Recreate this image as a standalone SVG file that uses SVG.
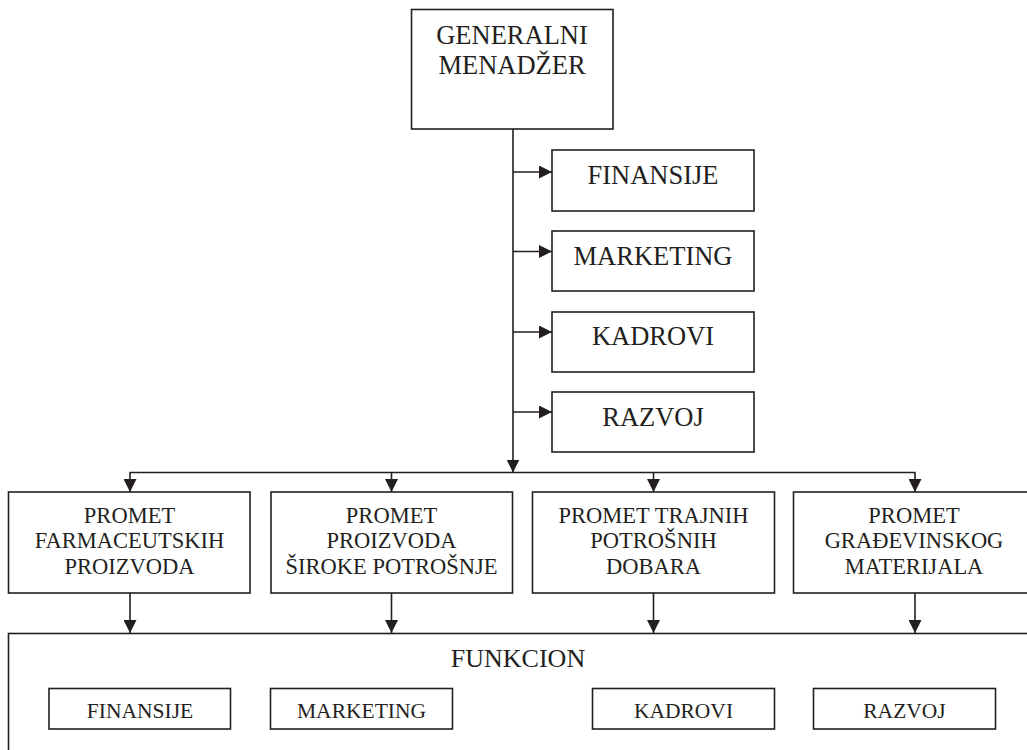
<svg xmlns="http://www.w3.org/2000/svg" width="1027" height="750" viewBox="0 0 1027 750">
  <style>
    .box { fill: #ffffff; stroke: #231f20; stroke-width: 1.6; }
    .wire { fill: none; stroke: #231f20; stroke-width: 1.6; }
    .lbl { font-family: "Liberation Serif", "Times New Roman", serif; fill: #231f20; text-anchor: middle; }
    .t1 { font-size: 26.5px; }
    .t2 { font-size: 22.5px; }
    .t3 { font-size: 26px; }
    .t4 { font-size: 21.5px; }
  </style>
  <defs>
    <marker id="arrow" markerUnits="userSpaceOnUse" markerWidth="13" markerHeight="13" refX="13" refY="6.5" orient="auto">
      <path d="M0,0 L13,6.5 L0,13 z" fill="#231f20"/>
    </marker>
  </defs>
  <rect width="1027" height="750" fill="#ffffff"/>

  <!-- connectors -->
  <g id="connectors" class="wire">
    <line x1="513" y1="129" x2="513" y2="472.5" marker-end="url(#arrow)"/>
    <line x1="513" y1="172" x2="552" y2="172" marker-end="url(#arrow)"/>
    <line x1="513" y1="251.5" x2="552" y2="251.5" marker-end="url(#arrow)"/>
    <line x1="513" y1="332" x2="552" y2="332" marker-end="url(#arrow)"/>
    <line x1="513" y1="412" x2="552" y2="412" marker-end="url(#arrow)"/>
    <line x1="129.5" y1="472.5" x2="915.5" y2="472.5"/>
    <line x1="130" y1="472.5" x2="130" y2="492" marker-end="url(#arrow)"/>
    <line x1="391.5" y1="472.5" x2="391.5" y2="492" marker-end="url(#arrow)"/>
    <line x1="653.5" y1="472.5" x2="653.5" y2="492" marker-end="url(#arrow)"/>
    <line x1="915" y1="472.5" x2="915" y2="492" marker-end="url(#arrow)"/>
    <line x1="130" y1="593" x2="130" y2="633" marker-end="url(#arrow)"/>
    <line x1="391.5" y1="593" x2="391.5" y2="633" marker-end="url(#arrow)"/>
    <line x1="653.5" y1="593" x2="653.5" y2="633" marker-end="url(#arrow)"/>
    <line x1="915" y1="593" x2="915" y2="633" marker-end="url(#arrow)"/>
  </g>

  <!-- top management -->
  <g id="generalni-menadzer">
    <rect class="box" x="411.5" y="9.5" width="201.5" height="119.5"/>
    <text class="lbl t1" x="512" y="43.5">GENERALNI</text>
    <text class="lbl t1" x="512" y="73.5">MENADŽER</text>
  </g>

  <!-- staff functions -->
  <g id="staff-finansije">
    <rect class="box" x="552" y="150" width="202" height="61"/>
    <text class="lbl t1" x="653" y="184">FINANSIJE</text>
  </g>
  <g id="staff-marketing">
    <rect class="box" x="552" y="231" width="202" height="60"/>
    <text class="lbl t1" x="653" y="264.5">MARKETING</text>
  </g>
  <g id="staff-kadrovi">
    <rect class="box" x="552" y="312" width="202" height="60"/>
    <text class="lbl t1" x="653" y="345">KADROVI</text>
  </g>
  <g id="staff-razvoj">
    <rect class="box" x="552" y="392" width="202" height="60"/>
    <text class="lbl t1" x="653" y="425.5">RAZVOJ</text>
  </g>

  <!-- divisions -->
  <g id="div-farmaceutski">
    <rect class="box" x="8.5" y="492" width="241.5" height="101"/>
    <text class="lbl t2" x="129.5" y="522.5">PROMET</text>
    <text class="lbl t2" x="129.5" y="548">FARMACEUTSKIH</text>
    <text class="lbl t2" x="129.5" y="573.5">PROIZVODA</text>
  </g>
  <g id="div-siroka-potrosnja">
    <rect class="box" x="271" y="492" width="241.5" height="101"/>
    <text class="lbl t2" x="391.5" y="522.5">PROMET</text>
    <text class="lbl t2" x="391.5" y="548">PROIZVODA</text>
    <text class="lbl t2" x="391.5" y="573.5">ŠIROKE POTROŠNJE</text>
  </g>
  <g id="div-trajna-dobra">
    <rect class="box" x="532.5" y="492" width="242" height="101"/>
    <text class="lbl t2" x="653.5" y="522.5">PROMET TRAJNIH</text>
    <text class="lbl t2" x="653.5" y="548">POTROŠNIH</text>
    <text class="lbl t2" x="653.5" y="573.5">DOBARA</text>
  </g>
  <g id="div-gradjevinski">
    <rect class="box" x="793.5" y="492" width="250" height="101"/>
    <text class="lbl t2" x="914" y="522.5">PROMET</text>
    <text class="lbl t2" x="914" y="548">GRAĐEVINSKOG</text>
    <text class="lbl t2" x="914" y="573.5">MATERIJALA</text>
  </g>

  <!-- shared functions -->
  <g id="funkcion">
    <rect class="box" x="8.5" y="633.5" width="1100" height="200"/>
    <text class="lbl t3" x="518" y="667">FUNKCION</text>
  </g>
  <g id="fn-finansije">
    <rect class="box" x="49" y="688.5" width="181.5" height="40.5"/>
    <text class="lbl t4" x="140" y="717.5">FINANSIJE</text>
  </g>
  <g id="fn-marketing">
    <rect class="box" x="270.5" y="688.5" width="182" height="40.5"/>
    <text class="lbl t4" x="361.5" y="717.5">MARKETING</text>
  </g>
  <g id="fn-kadrovi">
    <rect class="box" x="592.5" y="688.5" width="182" height="40.5"/>
    <text class="lbl t4" x="683.5" y="717.5">KADROVI</text>
  </g>
  <g id="fn-razvoj">
    <rect class="box" x="813.5" y="688.5" width="182" height="40.5"/>
    <text class="lbl t4" x="904.5" y="717.5">RAZVOJ</text>
  </g>
</svg>
